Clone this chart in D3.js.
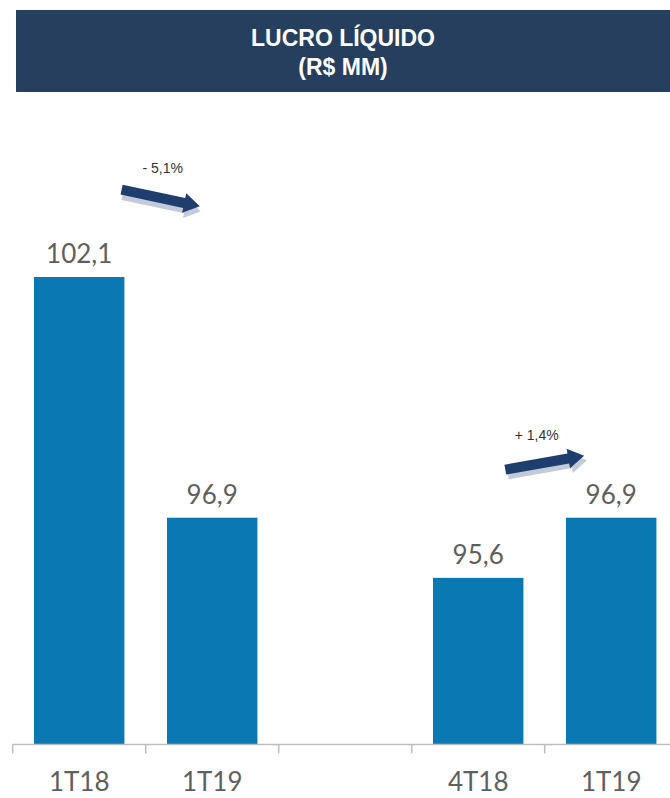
<!DOCTYPE html>
<html>
<head>
<meta charset="utf-8">
<script src="https://cdn.jsdelivr.net/npm/d3@7"></script>
<style>
  html, body { margin: 0; padding: 0; background: #ffffff; }
  svg { display: block; }
</style>
</head>
<body>
<script>
// ---- data ----
const slots = ["s1", "s2", "gap", "s3", "s4"];
const categories = ["1T18", "1T19", "", "4T18", "1T19"];
const values = [102.1, 96.9, null, 95.6, 96.9];
const valueLabels = ["102,1", "96,9", "", "95,6", "96,9"];
const titleLines = ["LUCRO LÍQUIDO", "(R$ MM)"];
const changeLabels = ["- 5,1%", "+ 1,4%"];
const changeFrom = [0, 3];   // index of the bar where each comparison starts

const W = 670, H = 798;
const svg = d3.select("body").append("svg").attr("width", W).attr("height", H);

// header
svg.append("rect").attr("x", 16).attr("y", 10).attr("width", W - 16).attr("height", 82)
  .attr("fill", "#263f5f");
titleLines.forEach((t, i) => {
  svg.append("text").attr("x", 343).attr("y", 46 + i * 29)
    .attr("text-anchor", "middle")
    .attr("font-family", "Liberation Sans, Arial, sans-serif")
    .attr("font-weight", "bold").attr("font-size", 23)
    .attr("fill", "#ffffff").text(t);
});

// scales
const x = d3.scaleBand().domain(slots).range([12.7, 677.7]).paddingInner(0).paddingOuter(0);
const y = d3.scaleLinear().domain([92, 102.1]).range([744.5, 277]);
const barInset = x.bandwidth() * 0.16;
const barW = x.bandwidth() - 2 * barInset;

const data = slots.map((s, i) => ({ slot: s, cat: categories[i], v: values[i], lab: valueLabels[i] }));
const barsData = data.filter(d => d.v != null);

// bars
svg.append("g").selectAll("rect").data(barsData).join("rect")
  .attr("x", d => x(d.slot) + barInset)
  .attr("y", d => y(d.v))
  .attr("width", barW)
  .attr("height", d => y.range()[0] - y(d.v))
  .attr("fill", "#0a78b3");

// value labels
svg.append("g").selectAll("text").data(barsData).join("text")
  .attr("x", d => x(d.slot) + x.bandwidth() / 2)
  .attr("y", d => y(d.v) - 14)
  .attr("text-anchor", "middle")
  .attr("font-family", "Lato, 'Open Sans', sans-serif")
  .attr("font-size", 26)
  .attr("fill", "#5f5f5f")
  .text(d => d.lab);

// axis
const axisY = y.range()[0];
const axis = svg.append("g");
axis.append("line").attr("x1", x.range()[0]).attr("x2", W).attr("y1", axisY).attr("y2", axisY)
  .attr("stroke", "#bfbfbf").attr("stroke-width", 1.5);
const bounds = slots.map(s => x(s)).concat([x.range()[1]]);
axis.selectAll("line.tick").data(bounds).join("line").attr("class", "tick")
  .attr("x1", d => d).attr("x2", d => d).attr("y1", axisY).attr("y2", axisY + 9)
  .attr("stroke", "#bfbfbf").attr("stroke-width", 1.5);
axis.selectAll("text").data(data.filter(d => d.cat !== "")).join("text")
  .attr("x", d => x(d.slot) + x.bandwidth() / 2)
  .attr("y", 791)
  .attr("text-anchor", "middle")
  .attr("font-family", "Lato, 'Open Sans', sans-serif")
  .attr("font-size", 26)
  .attr("fill", "#5f5f5f")
  .text(d => d.cat);

// change arrows
function arrowPath(L, t, h, w) {
  const a = -L / 2, b = L / 2;
  return `M${a},${-t}L${b - h},${-t}L${b - h},${-w}L${b},0L${b - h},${w}L${b - h},${t}L${a},${t}Z`;
}
const arrowSpec = [
  { angle: 12, dx: 15, dy: -79, tx: 17, ty: -104 },
  { angle: -10, dx: 0, dy: -55, tx: -8, ty: -78 }
];
changeLabels.forEach((lab, k) => {
  const i = changeFrom[k];
  const bx = x(slots[i + 1]);          // boundary between the compared bars
  const by = y(Math.max(values[i], values[i + 1]));
  const s = arrowSpec[k];
  const cx = bx + s.dx, cy = by + s.dy;
  const g = svg.append("g").attr("transform", `translate(${cx},${cy}) rotate(${s.angle})`);
  g.append("path").attr("d", arrowPath(80, 5, 16, 10)).attr("transform", "translate(2,5)")
    .attr("fill", "#c3cbdb");
  g.append("path").attr("d", arrowPath(80, 5, 16, 10)).attr("fill", "#1f3e6e");
  svg.append("text").attr("x", bx + s.tx).attr("y", by + s.ty)
    .attr("text-anchor", "middle")
    .attr("font-family", "Liberation Sans, Arial, sans-serif")
    .attr("font-size", 14).attr("fill", "#333333")
    .text(lab);
});
</script>
</body>
</html>
